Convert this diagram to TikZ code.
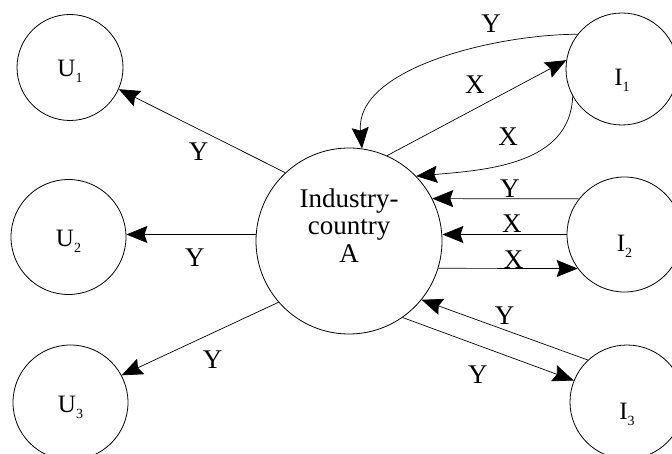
\documentclass[tikz,border=0pt]{standalone}
\usepackage{fontspec}
\setmainfont{Liberation Serif}
\usetikzlibrary{arrows.meta}
\newcommand{\lowsub}[1]{\raisebox{-6pt}{\fontsize{14}{14}\selectfont #1}}
\tikzset{
  country/.style={circle, draw, line width=0.8pt, inner sep=0pt},
  ucirc/.style={country, font=\fontsize{25}{25}\selectfont, text height=25pt, text depth=6pt},
  icirc/.style={country, font=\fontsize{25}{25}\selectfont, text height=40pt, text depth=6pt},
  hub/.style={country, minimum size=186pt, align=center,
              font=\fontsize{27}{27.5}\selectfont, text height=43pt},
  lbl/.style={font=\fontsize{27}{27}\selectfont, inner sep=0pt},
  ar/.style={-{Stealth[length=21pt, width=17pt, inset=3pt]}, line width=0.7pt},
}
\begin{document}
\begin{tikzpicture}[x=1pt, y=-1pt]
  \useasboundingbox (0,0) rectangle (672,454);
  \node[hub] (A) at (349,241) {Industry-\\country\\A};

  \node[ucirc, minimum size=106pt] (U1) at (70,67.5) {U\lowsub{1}};
  \node[ucirc, minimum size=115pt] (U2) at (68.5,237) {U\lowsub{2}};
  \node[ucirc, minimum size=115pt] (U3) at (70.5,402.5) {U\lowsub{3}};

  \node[icirc, minimum size=112pt] (I1) at (622,69) {I\lowsub{1}};
  \node[icirc, minimum size=115pt] (I2) at (624.5,234.5) {I\lowsub{2}};
  \node[icirc, minimum size=114pt] (I3) at (627,402) {I\lowsub{3}};

  % A to the U countries
  \draw[ar] (A.133) -- node[lbl, pos=0.52, below=13.5pt] {Y} (U1.-24);
  \draw[ar] (A.176) -- node[lbl, pos=0.47, below=13.5pt] {Y} (A.176 -| U2.east);
  \draw[ar] (A.221) -- node[lbl, pos=0.42, below=18pt] {Y} (U3.28);
  % I1 and A
  \draw[ar] (I1.142) to[out=180, in=95, looseness=0.85] node[lbl, pos=0.31, above=12pt] {Y} (A.82);
  \draw[ar] (A.66) -- node[lbl, pos=0.49, above=15.5pt] {X} (I1.171);
  \draw[ar] (I1.209) to[out=-92, in=5] node[lbl, pos=0.56, above=17.5pt] {X} (A.44);
  % I2 and A
  \draw[ar] (I2.142) -- node[lbl, pos=0.47, above=1pt] {Y} (A.27);
  \draw[ar] (I2.west) -- node[lbl, pos=0.44, above=1.5pt] {X} (I2.west -| A.east);
  \draw[ar] (A.-17) -- node[lbl, pos=0.54, above=0pt] {X} (I2.216);
  % I3 and A
  \draw[ar] (I3.133) -- node[lbl, pos=0.5, above=5pt] {Y} (A.-39);
  \draw[ar] (A.-55) -- node[lbl, pos=0.44, below=20.5pt] {Y} (I3.158);
\end{tikzpicture}
\end{document}
